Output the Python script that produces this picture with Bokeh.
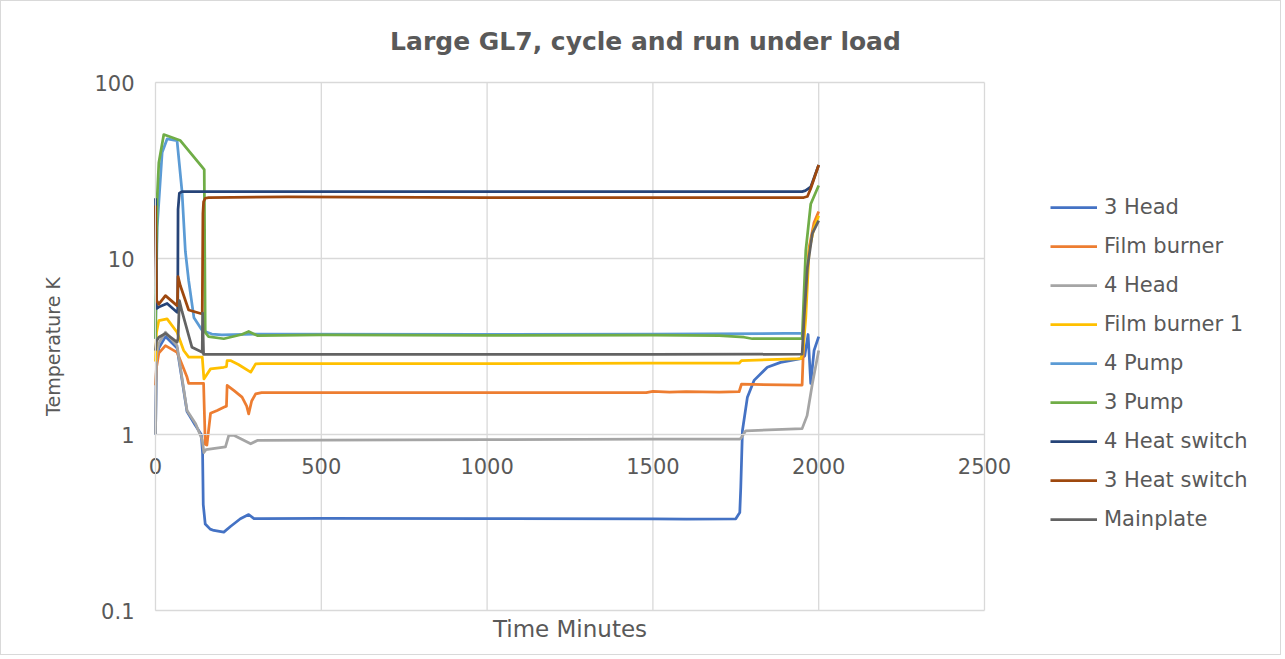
from bokeh.plotting import figure
from bokeh.models import (FixedTicker, Legend, LegendItem, Range1d, Label,
                          CustomJSTickFormatter)
from bokeh.embed import file_html
from bokeh.resources import INLINE

# ---------------- data (time in minutes, temperature in K) ----------------
series_names = ["3 Head", "Film burner", "4 Head", "Film burner 1", "4 Pump",
                "3 Pump", "4 Heat switch", "3 Heat switch", "Mainplate"]

t_3head = [0, 3, 10, 30, 65, 95, 121, 138, 142, 144, 150, 165, 176, 206, 226, 256, 281, 297,
           320, 500, 1000, 1500, 1600, 1750, 1762, 1765, 1770, 1785, 1805, 1845, 1885,
           1946, 1958, 1968, 1976, 1986, 2000]
T_3head = [1.0, 2.6, 3.1, 3.6, 3.1, 1.35, 1.12, 1.0, 0.78, 0.4, 0.31, 0.29, 0.285, 0.279,
           0.30, 0.332, 0.351, 0.333, 0.333, 0.334, 0.333, 0.332, 0.331, 0.332, 0.36,
           0.5, 1.05, 1.63, 2.03, 2.41, 2.57, 2.70, 2.8, 3.7, 1.95, 3.0, 3.6]

t_film = [0, 3, 10, 30, 65, 80, 95, 100, 145, 150, 155, 166, 186, 206, 214, 216, 236, 261,
          275, 281, 290, 302, 320, 500, 1000, 1480, 1500, 1550, 1600, 1700, 1760, 1767,
          1950, 1955, 1961, 1971, 1986, 2000]
T_film = [1.9, 2.4, 2.9, 3.2, 2.93, 2.5, 2.12, 1.95, 1.95, 0.88, 0.87, 1.32, 1.37, 1.43,
          1.45, 1.9, 1.78, 1.63, 1.45, 1.31, 1.55, 1.70, 1.73, 1.73, 1.73, 1.73, 1.76,
          1.74, 1.75, 1.74, 1.75, 1.93, 1.91, 3.5, 6.0, 11.5, 16.0, 18.5]

t_4head = [0, 3, 10, 30, 65, 95, 121, 141, 146, 152, 211, 221, 236, 287, 307, 500, 1000,
           1500, 1760, 1765, 1780, 1950, 1965, 1981, 2000]
T_4head = [1.0, 2.8, 3.3, 3.81, 3.2, 1.37, 1.15, 0.93, 0.79, 0.82, 0.85, 0.99, 0.99, 0.885,
           0.925, 0.93, 0.935, 0.94, 0.94, 0.95, 1.05, 1.08, 1.28, 1.95, 3.0]

t_film1 = [0, 3, 10, 35, 65, 85, 100, 141, 146, 166, 206, 214, 216, 226, 250, 287, 302,
           320, 1000, 1500, 1760, 1767, 1946, 1952, 1961, 1971, 1986, 2000]
T_film1 = [2.6, 3.8, 4.44, 4.54, 3.81, 3.0, 2.75, 2.75, 2.07, 2.36, 2.41, 2.43, 2.63, 2.63,
           2.5, 2.26, 2.52, 2.53, 2.53, 2.54, 2.54, 2.63, 2.70, 2.9, 4.6, 11.1, 15.0, 17.5]

t_4pump = [0, 5, 20, 35, 65, 80, 90, 100, 116, 141, 170, 200, 300, 1000, 1500, 1900, 1955]
T_4pump = [3.5, 15.0, 40.0, 47.8, 46.8, 24.0, 11.0, 7.5, 4.6, 3.9, 3.72, 3.68, 3.72, 3.7,
           3.72, 3.75, 3.75]

t_3pump = [0, 3, 5, 10, 25, 75, 141, 147, 150, 160, 206, 260, 281, 307, 500, 1000, 1500,
           1700, 1775, 1800, 1950, 1961, 1976, 2000]
T_3pump = [3.5, 10.0, 22.0, 35.0, 50.6, 46.8, 33.0, 32.0, 3.8, 3.6, 3.5, 3.7, 3.85, 3.65,
           3.68, 3.66, 3.67, 3.65, 3.57, 3.5, 3.5, 11.1, 20.4, 26.0]

t_4hs = [0, 3, 10, 35, 65, 67, 68, 72, 80, 500, 1000, 1500, 1950, 1960, 1976, 2000]
T_4hs = [22.0, 5.2, 5.3, 5.55, 4.95, 5.0, 19.0, 23.5, 24.0, 24.0, 24.0, 24.0, 24.0, 24.3,
         25.5, 34.0]

t_3hs = [0, 3, 10, 30, 65, 66, 68, 75, 100, 136, 141, 143, 145, 150, 160, 400, 1000, 1500,
         1955, 1966, 1976, 2000]
T_3hs = [20.0, 5.8, 5.5, 6.15, 5.4, 5.4, 7.9, 7.0, 5.1, 4.87, 4.85, 18.0, 21.0, 22.0, 22.2,
         22.4, 22.2, 22.2, 22.2, 22.5, 25.0, 34.0]

t_main = [0, 3, 10, 30, 65, 68, 72, 80, 110, 141, 142, 145, 150, 500, 1000, 1500, 1950,
          1956, 1966, 1981, 2000]
T_main = [3.0, 3.4, 3.57, 3.75, 3.35, 3.5, 5.77, 5.0, 3.13, 2.93, 4.9, 2.85, 2.85, 2.85,
          2.85, 2.85, 2.86, 4.6, 8.9, 13.9, 16.4]

series_t = [t_3head, t_film, t_4head, t_film1, t_4pump, t_3pump, t_4hs, t_3hs, t_main]
series_T = [T_3head, T_film, T_4head, T_film1, T_4pump, T_3pump, T_4hs, T_3hs, T_main]
colors = ["#4472C4", "#ED7D31", "#A5A5A5", "#FFC000", "#5B9BD5", "#70AD47",
          "#264478", "#9E480E", "#636363"]

x_ticks = [0, 500, 1000, 1500, 2000, 2500]
y_ticks = [0.1, 1, 10, 100]
x_min, x_max = 0, 2500
y_min, y_max = 0.1, 100

TXT = "#595959"
GRID = "#d9d9d9"
FONT = "DejaVu Sans"

# ---------------- layout geometry (pixels) ----------------
W, H = 1281, 655                 # canvas size (1px CSS border around it)
PX0, PX1 = 155, 984              # page x of x_min / x_max
PY0, PY1 = 610, 82               # page y of y_min / y_max
PXM = (PX1 - PX0) / (x_max - x_min)
DEC = (PY0 - PY1) / 3.0          # pixels per decade


def dx(px):
    return x_min + (px - PX0) / PXM


def dy(py):
    return 10 ** (-1 + (PY0 - py) / DEC)


p = figure(width=W, height=H,
           x_range=Range1d(dx(1), dx(1 + W)), y_range=Range1d(dy(1 + H), dy(1)),
           y_axis_type="log", output_backend="svg", toolbar_location=None,
           min_border_left=0, min_border_right=0, min_border_top=0, min_border_bottom=0)
p.styles = {"border": "1px solid #d9d9d9"}
p.title.visible = False
p.background_fill_color = "white"
p.border_fill_color = "white"
p.outline_line_color = None
p.xgrid.visible = False
p.ygrid.visible = False

# grid lines restricted to the plotting area
n_y = len(y_ticks)
n_x = len(x_ticks)
p.segment(x0=[x_min] * n_y, x1=[x_max] * n_y, y0=y_ticks, y1=y_ticks,
          line_color=GRID, line_width=1.3)
p.segment(x0=x_ticks, x1=x_ticks, y0=[y_min] * n_x, y1=[y_max] * n_x,
          line_color=GRID, line_width=1.3)

# x axis crossing at y = 1
xa = p.xaxis[0]
xa.ticker = FixedTicker(ticks=x_ticks)
xa.fixed_location = 1
xa.bounds = (x_min, x_max)
xa.axis_line_color = GRID
xa.major_tick_line_color = None
xa.minor_tick_line_color = None
xa.major_label_text_font = FONT
xa.major_label_text_font_size = "21px"
xa.major_label_text_color = TXT
xa.major_label_standoff = 17

ya = p.yaxis[0]
ya.ticker = FixedTicker(ticks=y_ticks, minor_ticks=[])
ya.formatter = CustomJSTickFormatter(code="return tick.toString();")
ya.fixed_location = x_min
ya.bounds = (y_min, y_max)
ya.axis_line_color = GRID
ya.major_tick_line_color = None
ya.minor_tick_line_color = None
ya.major_label_text_font = FONT
ya.major_label_text_font_size = "21px"
ya.major_label_text_color = TXT
ya.major_label_standoff = 15
ya.axis_label = "Temperature K"
ya.axis_label_text_font = FONT
ya.axis_label_text_font_size = "19px"
ya.axis_label_text_font_style = "normal"
ya.axis_label_text_color = TXT
ya.axis_label_standoff = 27

items = []
for name, tt, TT, c in zip(series_names, series_t, series_T, colors):
    r = p.line(tt, TT, line_color=c, line_width=2.75, line_join="round")
    items.append(LegendItem(label=name, renderers=[r]))

# title and x-axis title
p.add_layout(Label(x=dx(645), y=dy(41), text="Large GL7, cycle and run under load",
                   text_font=FONT, text_font_size="25px", text_font_style="bold",
                   text_color=TXT, text_align="center", text_baseline="middle"))
p.add_layout(Label(x=(x_min + x_max) / 2, y=dy(628), text="Time Minutes",
                   text_font=FONT, text_font_size="23px", text_color=TXT,
                   text_align="center", text_baseline="middle"))

legend = Legend(items=items, location=(1049, 125), orientation="vertical",
                glyph_width=47, glyph_height=20, label_height=20, spacing=15,
                label_standoff=7, padding=0, margin=0,
                border_line_color=None, background_fill_alpha=0,
                label_text_font=FONT, label_text_font_size="21px",
                label_text_color=TXT)
p.add_layout(legend)

open("out.html", "w").write(file_html(p, INLINE))
